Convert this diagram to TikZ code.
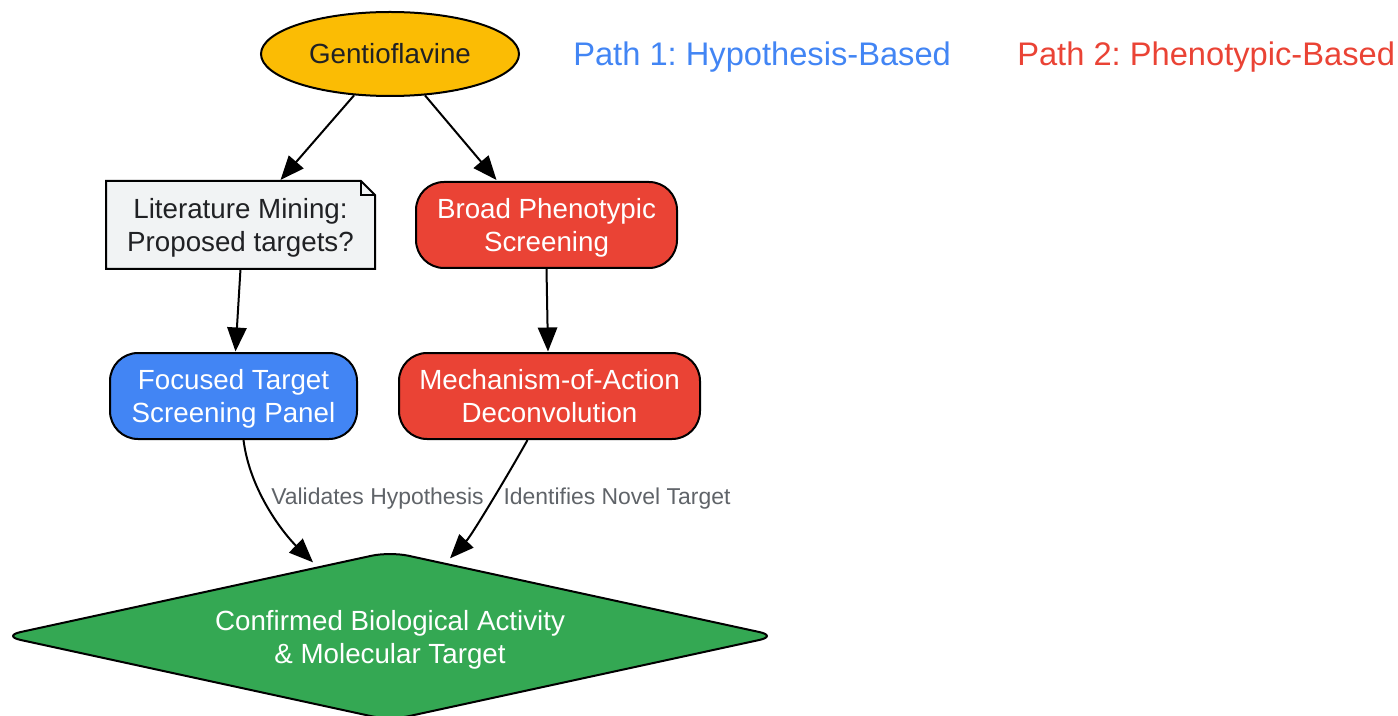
\documentclass[tikz,border=0pt]{standalone}
\usepackage{fontspec}
\setmainfont{Liberation Sans}
\frenchspacing
\usetikzlibrary{shapes.geometric,arrows.meta,calc,backgrounds}
\definecolor{cyellow}{HTML}{FBBC04}
\definecolor{cred}{HTML}{EA4335}
\definecolor{cblue}{HTML}{4285F4}
\definecolor{cgreen}{HTML}{34A853}
\definecolor{cnote}{HTML}{F1F3F4}
\definecolor{cdark}{HTML}{202124}
\definecolor{cgray}{HTML}{5F6368}
\newcommand{\topstr}{\rule{0pt}{21pt}}
\newcommand{\botstr}{\rule[-5.35pt]{0pt}{0pt}}
\tikzset{
  base/.style={font=\fontsize{20.8pt}{24.75pt}\selectfont, align=center, inner sep=0pt, line width=1.5pt},
  boxstyle/.style={base, draw=black, rounded corners=21pt, minimum height=64.5pt, text=white},
  arr/.style={line width=1.5pt, -{Triangle[length=18pt,width=14.5pt]}},
  elabel/.style={font=\fontsize{17.2pt}{20pt}\selectfont, text=cgray, inner sep=0pt},
  legend/.style={font=\fontsize{24.5pt}{28pt}\selectfont, anchor=west, inner sep=0pt}
}
\begin{document}
\begin{tikzpicture}[x=0.75pt,y=-0.75pt]
\useasboundingbox (0,0) rectangle (1398,716);
% nodes
\node[base, ellipse, draw=black, fill=cyellow, text=cdark, minimum width=193.5pt, minimum height=63pt] (g) at (390,54) {Gentioflavine};
\node[base, text=cdark, minimum width=200.25pt, minimum height=64.5pt] (lit) at (240.5,225) {\topstr Literature Mining:\\Proposed targets?\botstr};
\begin{scope}[on background layer]
\draw[line width=1.5pt, fill=cnote] (lit.north west) -- ($(lit.north east)+(-14,0)$) -- ($(lit.north east)+(0,14)$) -- (lit.south east) -- (lit.south west) -- cycle;
\draw[line width=1.2pt] ($(lit.north east)+(-14,0)$) -- ($(lit.north east)+(-14,14)$) -- ($(lit.north east)+(0,14)$);
\end{scope}
\node[boxstyle, fill=cred, minimum width=195.75pt] (broad) at (546.5,225) {\topstr Broad Phenotypic\\Screening\botstr};
\node[boxstyle, fill=cblue, minimum width=185.25pt] (foc) at (233.5,396) {\topstr Focused Target\\Screening Panel\botstr};
\node[boxstyle, fill=cred, minimum width=225.75pt] (mech) at (549.5,396) {\topstr Mechanism-of-Action\\Deconvolution\botstr};
\node[base, diamond, draw=black, fill=cgreen, text=white, rounded corners=14pt, aspect=4.6, minimum width=582pt, minimum height=127pt] (dia) at (390,636) {\rule{0pt}{22pt}Confirmed Biological Activity\\\& Molecular Target\rule[-4.85pt]{0pt}{0pt}};
% legend
\node[legend, text=cblue] (leg1) at (573,57.5) {Path 1: Hypothesis-Based};
\node[legend, text=cred] (leg2) at (1017,57.5) {Path 2: Phenotypic-Based};
% edges
\draw[arr] (g) -- ($(lit.north)+(40,-1)$);
\draw[arr] (g) -- ($(broad.north)+(-50,-1)$);
\draw[arr] (lit.south) -- ($(foc.north)+(2,-0.5)$);
\draw[arr] (broad.south) -- ($(mech.north)+(-1.5,-0.5)$);
\draw[arr] ($(foc.south)+(10,0)$) .. controls (250,492) and (285,535) .. ($(dia.north)+(-77,12)$);
\draw[arr] ($(mech.south)+(-22,0)$) .. controls (512,468) and (472,535) .. ($(dia.north)+(60,8)$);
\node[elabel] (l1) at (377.5,499) {Validates Hypothesis};
\node[elabel] (l2) at (617,499) {Identifies Novel Target};
\end{tikzpicture}
\end{document}
